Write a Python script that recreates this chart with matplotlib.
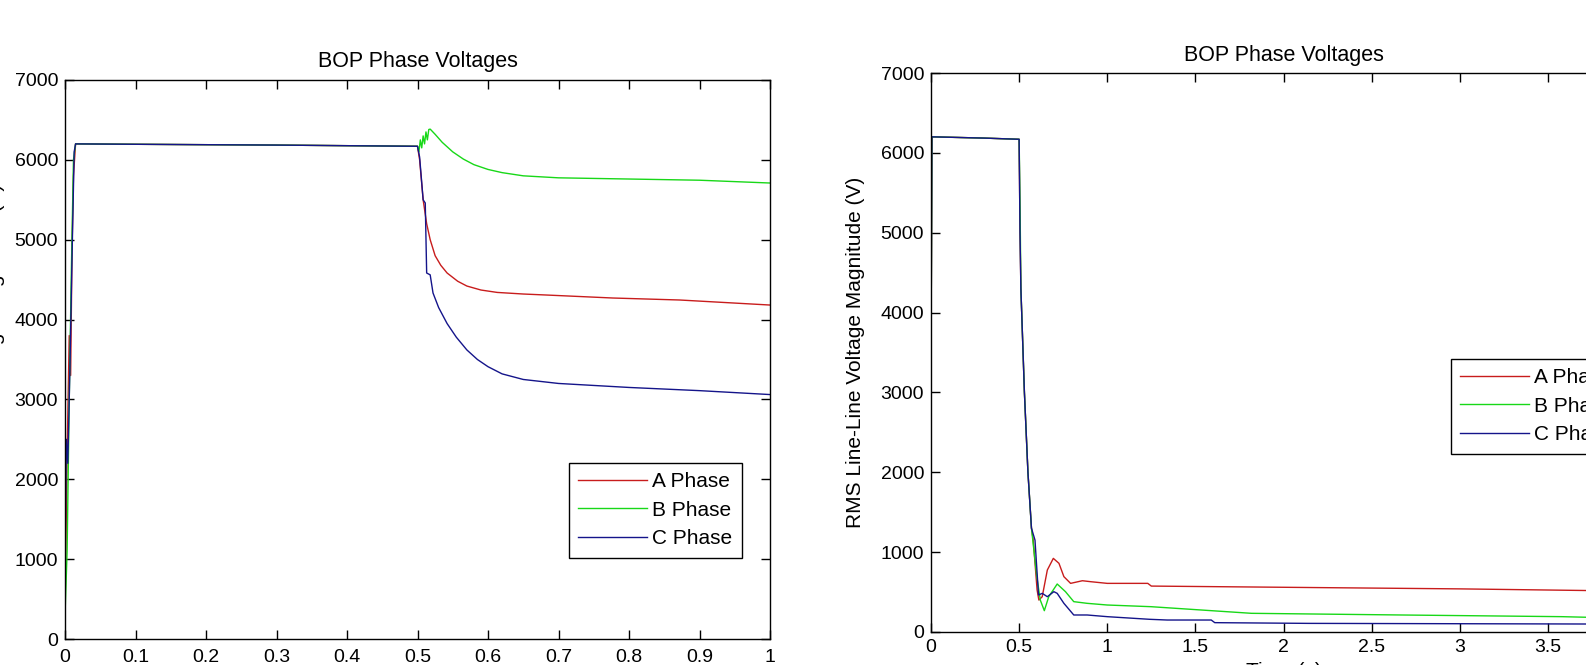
import matplotlib
matplotlib.use('Agg')
from matplotlib import pyplot as plt

# left panel: 0 .. 1 s
a_t_left = [0, 0.003, 0.006, 0.008, 0.010, 0.012, 0.015, 0.1, 0.3, 0.5, 0.503,
            0.508, 0.513, 0.518, 0.525, 0.533, 0.542, 0.557, 0.57, 0.59, 0.613,
            0.65, 0.684, 0.777, 0.872, 1.0]
a_v_left = [300, 2300, 3800, 3300, 4900, 5800, 6200, 6195, 6185, 6170, 6000,
            5500, 5200, 5000, 4800, 4680, 4583, 4480, 4420, 4370, 4340,
            4320, 4307, 4270, 4245, 4182]
b_t_left = [0, 0.003, 0.006, 0.009, 0.012, 0.015, 0.1, 0.3, 0.5, 0.502, 0.504,
            0.506, 0.508, 0.510, 0.512, 0.514, 0.516, 0.518, 0.525, 0.535,
            0.55, 0.565, 0.58, 0.6, 0.62, 0.65, 0.7, 0.8, 0.9, 1.0]
b_v_left = [300, 1100, 3000, 4600, 6000, 6200, 6195, 6185, 6170, 6100, 6250,
            6150, 6300, 6200, 6350, 6250, 6380, 6385, 6320, 6220,
            6100, 6010, 5940, 5880, 5840, 5800, 5775, 5760, 5745, 5710]
c_t_left = [0, 0.002, 0.004, 0.007, 0.010, 0.013, 0.015, 0.1, 0.3, 0.5, 0.503,
            0.508, 0.511, 0.513, 0.518, 0.522, 0.53, 0.542, 0.555, 0.57, 0.585,
            0.6, 0.62, 0.65, 0.7, 0.8, 0.9, 1.0]
c_v_left = [1000, 2500, 2200, 3400, 4800, 6100, 6200, 6195, 6185, 6170, 6035,
            5500, 5460, 4583, 4560, 4333, 4150, 3950, 3780, 3620, 3500,
            3410, 3320, 3250, 3200, 3150, 3110, 3061]

# right panel: 0 .. 4 s
a_t_right = [0, 0.005, 0.02, 0.3, 0.5, 0.505, 0.51, 0.53, 0.55, 0.57, 0.58,
             0.602, 0.612, 0.631, 0.66, 0.694, 0.726, 0.754, 0.792, 0.859,
             0.906, 1.0, 1.23, 1.25, 2.0, 3.0, 3.7, 4.0]
a_v_right = [3300, 6200, 6200, 6185, 6170, 5000, 4300, 3000, 2000, 1300, 1151,
             526, 400, 442, 776, 922, 860, 693, 609, 642,
             630, 609, 609, 575, 560, 540, 520, 510]
b_t_right = [0, 0.005, 0.02, 0.3, 0.5, 0.503, 0.506, 0.51, 0.53, 0.55, 0.57,
             0.6, 0.62, 0.643, 0.668, 0.716, 0.763, 0.81, 0.886, 1.0, 1.248,
             1.818, 2.67, 3.58, 3.73, 4.0]
b_v_right = [3300, 6200, 6200, 6185, 6170, 5700, 5200, 4300, 3000, 2000, 1300,
             700, 400, 267, 442, 601, 505, 380, 359, 338, 317,
             234, 213, 192, 184, 180]
c_t_right = [0, 0.005, 0.02, 0.3, 0.5, 0.505, 0.51, 0.53, 0.55, 0.57, 0.59,
             0.61, 0.631, 0.66, 0.697, 0.716, 0.754, 0.81, 0.886, 1.0, 1.24,
             1.34, 1.59, 1.61, 2.14, 3.73, 4.0]
c_v_right = [3300, 6200, 6200, 6185, 6170, 5000, 4300, 3000, 2000, 1300, 1151,
             463, 484, 442, 505, 484, 359, 213, 213, 192, 159,
             150, 150, 117, 108, 100, 98]

phase_labels = ['A Phase', 'B Phase', 'C Phase']
colors = ['#c81c1c', '#18d818', '#14148a']
title = 'BOP Phase Voltages'
ylabel = 'RMS Line-Line Voltage Magnitude (V)'
xlabel = 'Time (s)'

plt.rcParams['font.family'] = ['Liberation Sans', 'DejaVu Sans']

W, H = 1586, 665
fig = plt.figure(figsize=(W / 100, H / 100), dpi=100)


def px_axes(x0, y0, x1, y1):
    return fig.add_axes([x0 / W, 1 - y1 / H, (x1 - x0) / W, (y1 - y0) / H])


def style(ax, xlim, xticks):
    ax.set_xlim(*xlim)
    ax.set_ylim(0, 7000)
    ax.set_xticks(xticks)
    ax.set_yticks(range(0, 7001, 1000))
    ax.set_xticklabels([('%g' % t) for t in xticks])
    ax.tick_params(direction='in', length=6.5, width=1.0, top=True,
                   right=True, labelsize=14, pad=5)
    for sp in ax.spines.values():
        sp.set_linewidth(1.0)
    ax.set_title(title, fontsize=15.5, pad=9)


ax1 = px_axes(65, 80, 770, 639)
series_left = [(a_t_left, a_v_left), (b_t_left, b_v_left), (c_t_left, c_v_left)]
for (t, v), c, lab in zip(series_left, colors, phase_labels):
    ax1.plot(t, v, color=c, lw=1.0, label=lab)
style(ax1, (0, 1), [0, 0.1, 0.2, 0.3, 0.4, 0.5, 0.6, 0.7, 0.8, 0.9, 1])
ax1.xaxis.set_tick_params(pad=7)
ax1.set_ylabel(ylabel, fontsize=15)
ax1.yaxis.set_label_coords(-0.085, 0.5)

ax2 = px_axes(931, 73, 1636, 632)
series_right = [(a_t_right, a_v_right), (b_t_right, b_v_right),
                (c_t_right, c_v_right)]
for (t, v), c, lab in zip(series_right, colors, phase_labels):
    ax2.plot(t, v, color=c, lw=1.0, label=lab)
style(ax2, (0, 4), [0, 0.5, 1, 1.5, 2, 2.5, 3, 3.5, 4])
ax2.set_ylabel(ylabel, fontsize=15)
ax2.yaxis.set_label_coords(-0.094, 0.5)
ax2.set_xlabel(xlabel, fontsize=15)
ax2.xaxis.set_label_coords(0.5, -0.054)

leg_kw = dict(fontsize=15, frameon=True, fancybox=False, framealpha=1,
              edgecolor='black', handlelength=3.3, handletextpad=0.25,
              labelspacing=0.45, borderpad=0.45, borderaxespad=0,
              loc='upper left', bbox_transform=fig.transFigure)
leg1 = ax1.legend(bbox_to_anchor=(569 / W, 1 - 463 / H), **leg_kw)
leg2 = ax2.legend(bbox_to_anchor=(1451 / W, 1 - 359 / H), **leg_kw)
for leg in (leg1, leg2):
    leg.get_frame().set_linewidth(1.0)

fig.savefig('out.png', dpi=100)
plt.close(fig)
